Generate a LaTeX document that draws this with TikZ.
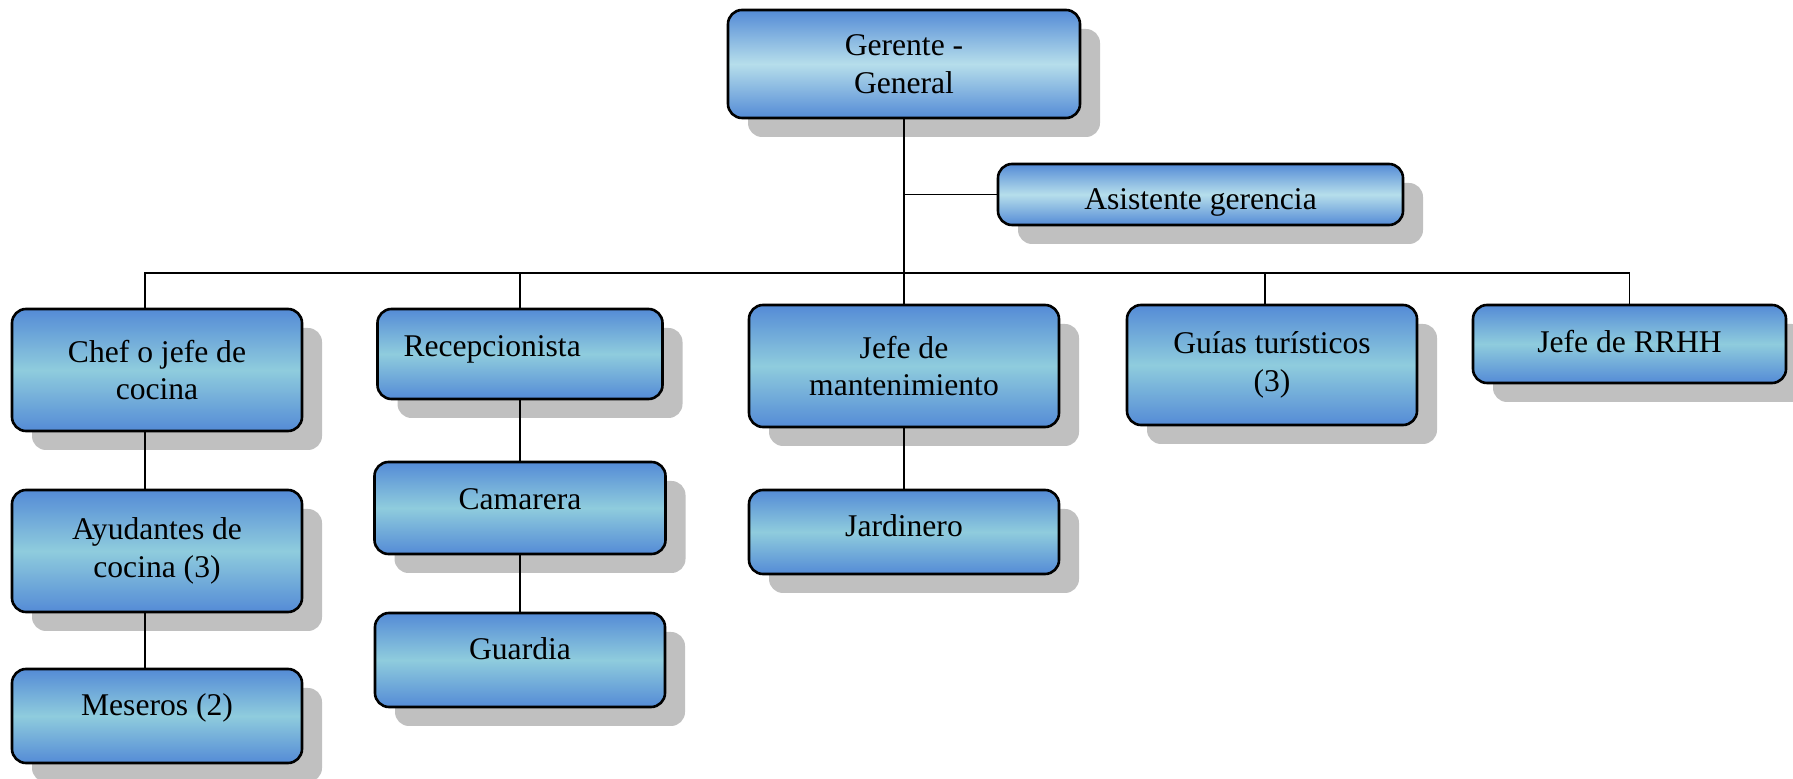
\documentclass[tikz,border=0pt]{standalone}
\usepackage{fontspec}
\setmainfont{Liberation Serif}
\usetikzlibrary{shadows}
\definecolor{boxblue}{RGB}{84,139,214}
\definecolor{boxmid}{RGB}{143,204,221}
\definecolor{boxpale}{RGB}{182,222,235}
\definecolor{shadowgray}{RGB}{192,192,192}
\begin{document}
\begin{tikzpicture}[x=0.5pt,y=-0.5pt,
  orgbox/.style={draw=black, line width=1.3pt, rounded corners=7pt, top color=boxblue, bottom color=boxblue, middle color=boxmid, drop shadow={shadow xshift=10pt, shadow yshift=-9.5pt, fill=shadowgray, opacity=1}, align=center, inner sep=0pt, font=\fontsize{15.8}{18.8}\selectfont},
  lift/.style={text height=11pt, text depth=#1},
  link/.style={draw=black, line width=0.85pt}]
\useasboundingbox (0,0) rectangle (1793,779);
\node[orgbox, middle color=boxpale, minimum width=176pt, minimum height=54pt] (gerente) at (904,64) {Gerente -\\General};
\node[orgbox, middle color=boxpale, minimum width=202.5pt, minimum height=30.5pt, text height=15pt, text depth=0pt] (asistente) at (1200.5,194.5) {Asistente gerencia};
\node[orgbox, minimum width=145pt, minimum height=61pt] (chef) at (157,370) {Chef o jefe de\\cocina};
\node[orgbox, minimum width=142.5pt, minimum height=45pt, inner xsep=13pt, text width=116.5pt, align=left, lift=8.4pt] (recep) at (520,354) {Recepcionista};
\node[orgbox, minimum width=155pt, minimum height=61pt] (mant) at (904,366) {Jefe de\\mantenimiento};
\node[orgbox, minimum width=145pt, minimum height=60pt] (guias) at (1272,365) {Guías turísticos\\(3)};
\node[orgbox, minimum width=156.5pt, minimum height=39pt, lift=2.2pt] (rrhh) at (1629.5,344) {Jefe de RRHH};
\node[orgbox, minimum width=145pt, minimum height=61pt] (ayud) at (157,551) {Ayudantes de\\cocina (3)};
\node[orgbox, minimum width=145.5pt, minimum height=46pt, lift=9pt] (cam) at (520,508) {Camarera};
\node[orgbox, minimum width=155pt, minimum height=42pt, lift=6.2pt] (jard) at (904,532) {Jardinero};
\node[orgbox, minimum width=145pt, minimum height=47pt, lift=11.3pt] (mes) at (157,716) {Meseros (2)};
\node[orgbox, minimum width=145pt, minimum height=47pt, lift=11.3pt] (guard) at (520,660) {Guardia};
\coordinate (bus) at (904,273);
\draw[link] (gerente.south) -- (mant.north);
\draw[link] (gerente.south |- asistente.west) -- (asistente.west);
\draw[link] ([xshift=-6pt]chef.north) |- (rrhh.north |- bus) -- (rrhh.north);
\draw[link] (recep.north |- bus) -- (recep.north);
\draw[link] ([xshift=-3.5pt]guias.north |- bus) -- ([xshift=-3.5pt]guias.north);
\draw[link] ([xshift=-6pt]chef.south) -- ([xshift=-6pt]ayud.north);
\draw[link] ([xshift=-6pt]ayud.south) -- ([xshift=-6pt]mes.north);
\draw[link] (recep.south) -- (cam.north);
\draw[link] (cam.south) -- (guard.north);
\draw[link] (mant.south) -- (jard.north);
\end{tikzpicture}
\end{document}
